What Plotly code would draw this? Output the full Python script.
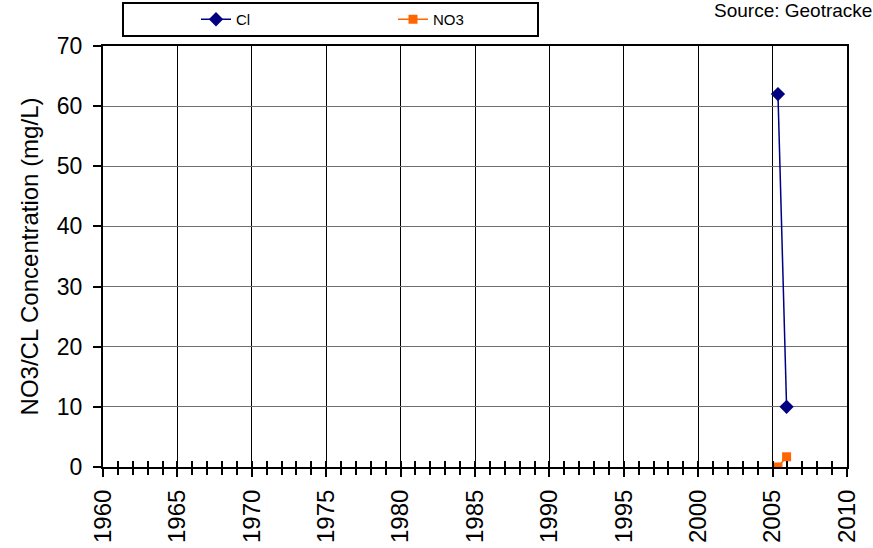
import plotly.graph_objects as go

cl_years = [2005.36, 2005.94]
cl_values = [62, 10]
no3_years = [2005.36, 2005.94]
no3_values = [0, 1.7]
x_ticks = list(range(1960, 2011, 5))
y_ticks = list(range(0, 71, 10))

fig = go.Figure()
fig.add_trace(go.Scatter(x=cl_years, y=cl_values, name="Cl", mode="lines+markers",
                         line=dict(color="#000080", width=1.5),
                         marker=dict(symbol="diamond", size=11, color="#000080")))
fig.add_trace(go.Scatter(x=no3_years, y=no3_values, name="NO3", mode="lines+markers",
                         line=dict(color="#FF6600", width=1.5),
                         marker=dict(symbol="square", size=9, color="#FF6600")))
# invisible trace to activate overlay axis for crossing ticks
fig.add_trace(go.Scatter(x=[1960, 2010], y=[0, 0], xaxis="x2", mode="none",
                         showlegend=False, hoverinfo="skip"))

font = "Liberation Sans, Arial, sans-serif"
L, R, T, B = 103, 26, 46, 81
W, H = 873, 548
pw, ph = W - L - R, H - T - B

def px_x(v):
    return (v - L) / pw

def px_y(v):
    return (H - B - v) / ph

fig.update_layout(
    width=W, height=H,
    margin=dict(l=L, r=R, t=T, b=B, autoexpand=False),
    paper_bgcolor="white", plot_bgcolor="white",
    font=dict(family=font, color="black"),
    showlegend=True,
    legend=dict(orientation="h", xref="container", yref="container",
                x=196 / W, y=1 - 19.5 / H, xanchor="left", yanchor="middle",
                borderwidth=0, entrywidth=152,
                font=dict(size=15, family=font), bgcolor="rgba(0,0,0,0)"),
    xaxis=dict(range=[1960, 2010], tickmode="array", tickvals=x_ticks,
               ticktext=[str(v) for v in x_ticks], tickangle=-90,
               tickfont=dict(size=24, family=font), automargin=False,
               ticklabelstandoff=3,
               showgrid=True, gridcolor="black", gridwidth=1,
               showline=True, linecolor="black", linewidth=2, mirror=True,
               ticks="outside", ticklen=8, tickwidth=1.5, tickcolor="black",
               minor=dict(dtick=1, tick0=1960, ticks="outside", ticklen=6,
                          tickwidth=1.5, tickcolor="black", showgrid=False),
               zeroline=False),
    xaxis2=dict(range=[1960, 2010], overlaying="x", anchor="y", side="bottom",
                showticklabels=False, showgrid=False, showline=False,
                ticks="inside", ticklen=6, tickwidth=1.5, tickcolor="black",
                tickvals=x_ticks, automargin=False,
                minor=dict(dtick=1, tick0=1960, ticks="inside", ticklen=6,
                           tickwidth=1.5, tickcolor="black", showgrid=False),
                zeroline=False),
    yaxis=dict(range=[0, 70], tickmode="array", tickvals=y_ticks,
               tickfont=dict(size=23, family=font), automargin=False,
               ticklabelstandoff=6,
               showgrid=True, gridcolor="#707070", gridwidth=1,
               showline=True, linecolor="black", linewidth=2, mirror=True,
               ticks="outside", ticklen=8, tickwidth=1.5, tickcolor="black",
               title=dict(text="NO3/CL Concentration (mg/L)", font=dict(size=24, family=font),
                          standoff=11),
               zeroline=False),
    shapes=[dict(type="rect", xref="paper", yref="paper",
                 x0=px_x(123), x1=px_x(538), y0=px_y(36), y1=px_y(3),
                 line=dict(color="black", width=2), fillcolor="rgba(0,0,0,0)",
                 layer="above")],
    annotations=[dict(text="Source: Geotracker", xref="paper", yref="paper",
                      x=px_x(712), y=px_y(11), xanchor="left", yanchor="middle",
                      showarrow=False, font=dict(size=19, family=font))],
)

fig.write_html("out.html", config={"displayModeBar": False},
               post_script="document.body.style.margin='0';")
